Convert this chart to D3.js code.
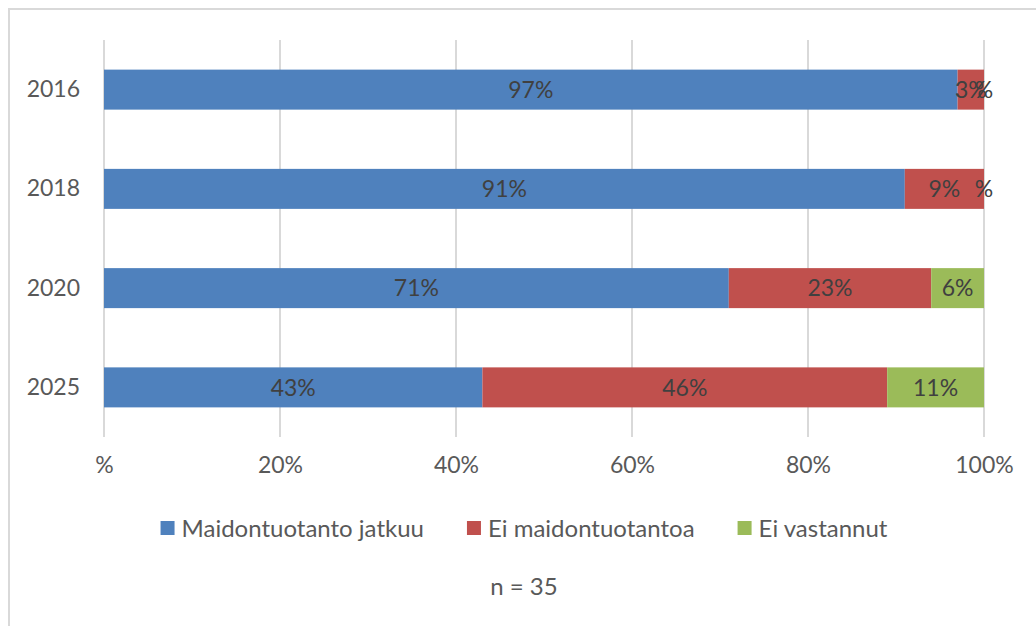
<!DOCTYPE html>
<html>
<head>
<meta charset="utf-8">
<script src="https://cdn.jsdelivr.net/npm/d3@7"></script>
<style>
  html, body { margin: 0; padding: 0; background: #fff; }
  svg { display: block; }
  text { font-family: Lato, "Open Sans", sans-serif; }
</style>
</head>
<body>
<svg id="chart" width="1036" height="626"></svg>
<script>
// Survey years (one bar each) and the share of answers per category, in percent
const years = ["2016", "2018", "2020", "2025"];
const seriesNames = ["Maidontuotanto jatkuu", "Ei maidontuotantoa", "Ei vastannut"];
const jatkuu = [97, 91, 71, 43];
const eiTuotantoa = [3, 9, 23, 46];
const eiVastannut = [0, 0, 6, 11];
const xTicks = [0, 20, 40, 60, 80, 100];
const xTickLabels = ["%", "20%", "40%", "60%", "80%", "100%"];
const colors = ["#4F81BD", "#C0504D", "#9BBB59"];
const footnote = "n = 35";

const rows = years.map((y, i) => ({
  year: y,
  [seriesNames[0]]: jatkuu[i],
  [seriesNames[1]]: eiTuotantoa[i],
  [seriesNames[2]]: eiVastannut[i]
}));

const svg = d3.select("#chart");
const fontSize = 23;
const legendFontSize = 24;
const textColor = "#595959";

// chart frame (only top and left edges fall inside the page)
svg.append("rect")
  .attr("x", 9).attr("y", 9)
  .attr("width", 1060).attr("height", 660)
  .attr("fill", "none")
  .attr("stroke", "#D9D9D9")
  .attr("stroke-width", 2);

const plot = { left: 104, right: 984, top: 40, bottom: 437 };

const x = d3.scaleLinear().domain([0, 100]).range([plot.left, plot.right]);
const y = d3.scaleBand().domain(years).range([plot.top, plot.bottom]).paddingInner(0.597).paddingOuter(0.2985);

// vertical gridlines
svg.append("g")
  .selectAll("line")
  .data(xTicks)
  .join("line")
  .attr("x1", d => x(d)).attr("x2", d => x(d))
  .attr("y1", plot.top).attr("y2", plot.bottom)
  .attr("stroke", "#D9D9D9")
  .attr("stroke-width", 2);

// x axis labels
const xAxis = d3.axisBottom(x)
  .tickValues(xTicks)
  .tickFormat((d, i) => xTickLabels[i])
  .tickSize(0)
  .tickPadding(0);
const gx = svg.append("g")
  .attr("transform", `translate(0, ${plot.bottom + 20})`)
  .call(xAxis);
gx.select(".domain").remove();
gx.selectAll("text")
  .attr("fill", textColor)
  .style("font-size", fontSize + "px")
  .style("font-family", "Lato, sans-serif");

// y axis labels
const yAxis = d3.axisLeft(y).tickSize(0).tickPadding(0);
const gy = svg.append("g")
  .attr("transform", `translate(${plot.left - 24}, 0)`)
  .call(yAxis);
gy.select(".domain").remove();
gy.selectAll("text")
  .attr("fill", textColor)
  .style("font-size", fontSize + "px")
  .style("font-family", "Lato, sans-serif");

// stacked bars
const stack = d3.stack().keys(seriesNames);
const layers = stack(rows);

const layerG = svg.append("g")
  .selectAll("g")
  .data(layers)
  .join("g")
  .attr("fill", (d, i) => colors[i]);

layerG.selectAll("rect")
  .data(d => d)
  .join("rect")
  .attr("x", d => x(d[0]))
  .attr("y", d => y(d.data.year))
  .attr("width", d => x(d[1]) - x(d[0]))
  .attr("height", y.bandwidth());

// data labels centred in each segment
const labelG = svg.append("g");
layers.forEach(layer => {
  labelG.selectAll(null)
    .data(layer)
    .join("text")
    .attr("x", d => (x(d[0]) + x(d[1])) / 2)
    .attr("y", d => y(d.data.year) + y.bandwidth() / 2)
    .attr("dy", "0.36em")
    .attr("text-anchor", "middle")
    .attr("fill", "#404040")
    .style("font-size", fontSize + "px")
    .text(d => {
      const v = d[1] - d[0];
      return v === 0 ? "%" : v + "%";
    });
});

// legend
const legend = svg.append("g");
const legendY = 528;
const items = [];
seriesNames.forEach((name, i) => {
  const g = legend.append("g");
  g.append("rect")
    .attr("x", 0).attr("y", legendY - 7)
    .attr("width", 14).attr("height", 14)
    .attr("fill", colors[i]);
  const t = g.append("text")
    .attr("x", 21).attr("y", legendY)
    .attr("dy", "0.36em")
    .attr("fill", textColor)
    .style("font-size", legendFontSize + "px")
    .text(name);
  const w = 21 + t.node().getComputedTextLength();
  items.push({ g, w });
});
const gap = 43;
const total = d3.sum(items, d => d.w) + gap * (items.length - 1);
let cursor = 524 - total / 2;
items.forEach(it => {
  it.g.attr("transform", `translate(${cursor}, 0)`);
  cursor += it.w + gap;
});

// sample size note
svg.append("text")
  .attr("x", 524).attr("y", 586)
  .attr("dy", "0.36em")
  .attr("text-anchor", "middle")
  .attr("fill", textColor)
  .style("font-size", legendFontSize + "px")
  .text(footnote);
</script>
</body>
</html>
